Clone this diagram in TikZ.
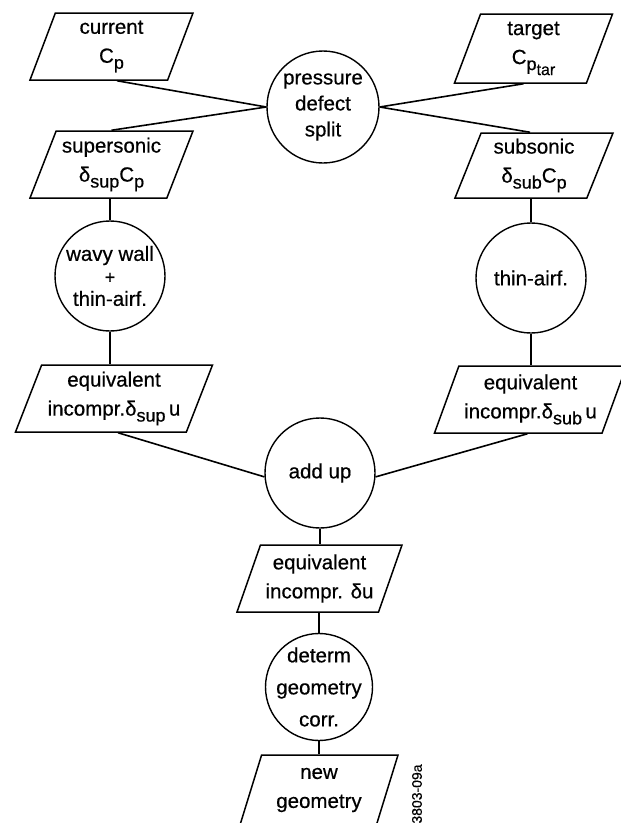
\documentclass[tikz,border=0pt]{standalone}
\usepackage{fontspec}
\setmainfont{Liberation Sans}[FakeBold=0.5]
\usetikzlibrary{shapes.geometric}
\newcommand{\lowr}[2][-6pt]{\raisebox{#1}{\fontsize{18}{18}\selectfont #2}}
\newcommand{\lowrs}[2][-5pt]{\raisebox{#1}{\fontsize{16}{16}\selectfont #2}}
\begin{document}
\begin{tikzpicture}[x=1pt,y=-1pt,
  every node/.style={font=\fontsize{20.5}{29}\selectfont},
  para/.style={draw, line width=1.5pt, shape=trapezium,
    trapezium left angle=64, trapezium right angle=116,
    trapezium stretches body, inner sep=0pt, minimum height=67pt, align=center},
  proc/.style={draw, circle, line width=1.4pt, inner sep=-15pt, align=center},
  conn/.style={line width=1.6pt}]
\useasboundingbox[fill=white] (0,0) rectangle (621,823);
\clip (0,0) rectangle (621,823);
% input / output boxes
\node[para, minimum width=163pt] (cur) at (111.5,46.5) {current\\C\lowr{p}};
\node[para, minimum width=163pt] (sup) at (111.5,164.5) {supersonic\\δ\lowr{sup}C\lowr{p}};
\node[para, minimum width=158pt, minimum height=69pt] (tgt) at (533.5,48.5) {target\\C\lowr{p\lowrs{tar}}};
\node[para, minimum width=158pt, minimum height=65pt] (sub) at (534,165.5) {subsonic\\δ\lowr{sub}C\lowr{p}};
\node[para, minimum width=197pt] (eqsup) at (114,398.5) {equivalent\\incompr.δ\lowr{sup}\,u};
\node[para, minimum width=192pt] (eqsub) at (530.5,399.5) {equivalent\\incompr.δ\lowr{sub}\,u};
\node[para, minimum width=165pt] (eqdu) at (319.5,578.5) {equivalent\\incompr. δu};
\node[para, minimum width=158pt, minimum height=70pt] (newg) at (319,790) {new\\geometry};
% process circles
\node[proc, minimum size=112pt, font=\fontsize{20.5}{26}\selectfont] (split) at (323,107) {pressure\\defect\\split};
\node[proc, minimum size=110pt, font=\fontsize{20.5}{22.5}\selectfont] (wavy) at (110,276) {wavy wall\\{\fontsize{18}{18}\selectfont +}\\thin-airf.};
\node[proc, minimum size=110pt] (thin) at (531,278) {thin-airf.};
\node[proc, minimum size=110pt] (add) at (320,473) {add up};
\node[proc, minimum size=107pt, font=\fontsize{20.5}{32}\selectfont] (det) at (319,687) {determ\\geometry\\corr.};
% figure code
\node[rotate=90, font=\fontsize{14}{14}\selectfont] (code) at (417,794) {3803-09a};
% connectors
\draw[conn] ([xshift=5.5pt]cur.south) -- (split.west);
\draw[conn] (sup.north) -- (split.west);
\draw[conn] ([xshift=-10pt]tgt.south) -- (split.east);
\draw[conn] ([xshift=-4pt]sub.north) -- (split.east);
\draw[conn] (wavy.north) -- (wavy.north |- sup.south);
\draw[conn] (wavy.south) -- (wavy.south |- eqsup.north);
\draw[conn] (thin.north) -- (thin.north |- sub.south);
\draw[conn] (thin.south) -- (thin.south |- eqsub.north);
\draw[conn] ([xshift=4pt]eqsup.south) -- (add.184);
\draw[conn] ([xshift=-3pt]eqsub.south) -- (add.-4);
\draw[conn] (add.south) -- (add.south |- eqdu.north);
\draw[conn] (det.north) -- (det.north |- eqdu.south);
\draw[conn] (det.south) -- (det.south |- newg.north);
\end{tikzpicture}
\end{document}
